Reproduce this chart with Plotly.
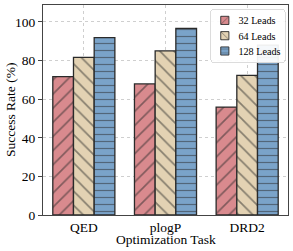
import plotly.graph_objects as go

tasks = ["QED", "plogP", "DRD2"]
leads_32 = [71.7, 67.9, 55.9]
leads_64 = [81.7, 85.0, 72.3]
leads_128 = [91.9, 96.7, 88.0]
series_names = ["32 Leads", "64 Leads", "128 Leads"]

colors = ["#d98a8e", "#e3d2b3", "#7aa3c9"]
shapes = ["/", "\\", "-"]
sizes = [10, 10, 7]
edge = "#2a2a2a"

fig = go.Figure()
for name, vals, c, s, sz in zip(series_names, [leads_32, leads_64, leads_128], colors, shapes, sizes):
    fig.add_trace(go.Bar(
        x=tasks, y=vals, name=name,
        marker=dict(color=c, line=dict(color=edge, width=1.3),
                    pattern=dict(shape=s, fgcolor=edge, size=sz, solidity=0.17)),
    ))

FAM = "Liberation Serif"
font = dict(family=FAM, color="black")
L, R, T, B = 43, 5, 5, 36
W, H = 293, 251
plot_w = W - L - R
plot_h = H - T - B

fig.update_layout(
    width=W, height=H,
    margin=dict(l=L, r=R, t=T, b=B),
    barmode="group", bargap=0.24, bargroupgap=0,
    plot_bgcolor="white", paper_bgcolor="white",
    font=dict(size=13, **font),
    showlegend=True,
    legend=dict(x=0.985, y=0.975, xanchor="right", yanchor="top",
                bgcolor="rgba(255,255,255,0.92)", bordercolor="#cccccc", borderwidth=1,
                font=dict(size=15, **font), tracegroupgap=0,
                itemwidth=30),
    annotations=[
        dict(text="Optimization Task", x=0.5, y=(H - B - 239) / plot_h,
             xref="paper", yref="paper", xanchor="center", yanchor="middle",
             showarrow=False, font=dict(size=13.5, **font)),
        dict(text="Success Rate (%)", x=(10 - L) / plot_w, y=(H - B - 110) / plot_h,
             xref="paper", yref="paper", xanchor="center", yanchor="middle",
             textangle=-90, showarrow=False, font=dict(size=13.5, **font)),
    ],
)

fig.update_xaxes(
    showline=True, mirror=True, linecolor="#444444", linewidth=1.2,
    showgrid=True, gridcolor="#cfcfcf", griddash="dot", gridwidth=1,
    ticks="", tickfont=dict(size=13.5), automargin=False,
)
fig.update_yaxes(
    range=[0, 108.8], tickvals=[0, 20, 40, 60, 80, 100],
    showline=True, mirror=True, linecolor="#444444", linewidth=1.2,
    showgrid=True, gridcolor="#cfcfcf", griddash="dot", gridwidth=1,
    ticks="outside", ticklen=4, tickcolor="#444444", tickfont=dict(size=13.5),
    zeroline=False, automargin=False,
)

post = """
document.body.style.margin='0px';
document.body.style.overflow='hidden';
var g = document.querySelector('g.legend');
if (g) {
  var bb = g.getBBox();
  var s = 0.68;
  var tx = 285 - (bb.x + bb.width) * s;
  var ty = 9 - bb.y * s;
  g.setAttribute('transform', 'translate(' + tx + ',' + ty + ') scale(' + s + ')');
  var r = g.querySelector('rect.bg');
  if (r) { r.setAttribute('rx', 4); r.setAttribute('ry', 4); }
}
"""
fig.write_html("out.html", config={"displayModeBar": False}, post_script=post)
